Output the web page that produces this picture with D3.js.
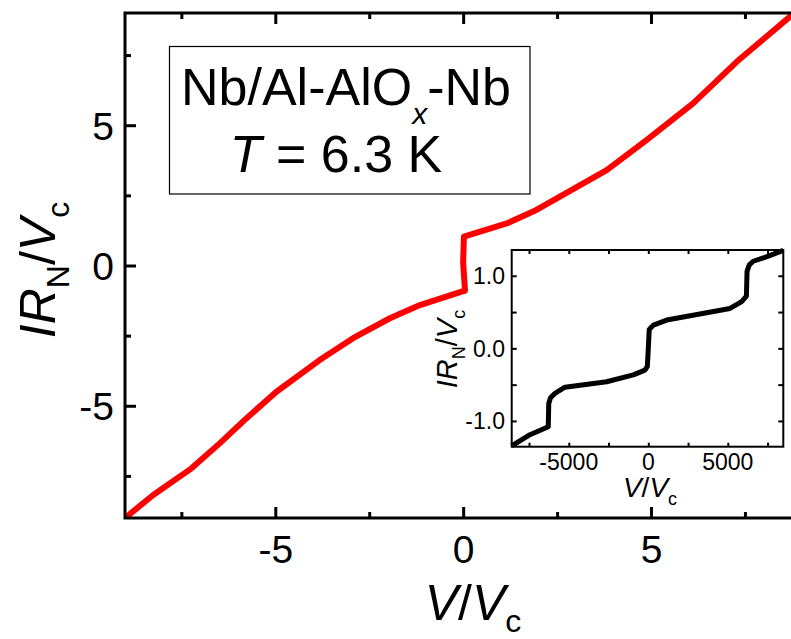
<!DOCTYPE html>
<html>
<head>
<meta charset="utf-8">
<script src="https://cdn.jsdelivr.net/npm/d3@7"></script>
<style>
  body { margin: 0; background: #fff; }
  svg { display: block; font-family: "Liberation Sans", Arial, Helvetica, sans-serif; }
</style>
</head>
<body>
<div id="vis"></div>
<script>
// main I-V curve (red)
const mainV = [-9.0, -8.25, -7.23, -6.48, -5.77, -4.97, -3.82, -2.93, -1.95, -1.15, -0.04, 0.05, 0.0, 0.02, 1.16, 1.95, 3.82, 4.88, 6.12, 7.28, 8.70, 9.1];
const mainI = [-9.0, -8.18, -7.23, -6.34, -5.45, -4.50, -3.37, -2.59, -1.88, -1.41, -0.93, -0.90, 0.1, 1.03, 1.50, 1.98, 3.40, 4.47, 5.78, 7.26, 8.87, 9.2];
const mainMajor = [-5, 0, 5];
const mainMinor = [-7.5, -2.5, 2.5, 7.5];

// inset curve (black)
const insetV = [-8590, -7440, -6290, -6260, -6150, -5870, -5240, -2620, -940, -210, -60, 0, 60, 320, 1160, 5140, 5870, 6170, 6210, 6350, 6600, 7550, 8490];
const insetI = [-1.345, -1.19, -1.08, -0.76, -0.68, -0.62, -0.535, -0.46, -0.366, -0.30, -0.25, 0.0, 0.26, 0.32, 0.39, 0.55, 0.645, 0.72, 1.06, 1.15, 1.20, 1.27, 1.35];
const insetXLabels = [-5000, 0, 5000];
const insetXTicks = [-7500, -5000, -2500, 0, 2500, 5000, 7500];
const insetYLabels = [-1.0, 0.0, 1.0];
const insetYTicks = [-1.0, -0.5, 0.0, 0.5, 1.0];

const W = 791, H = 639;
const svg = d3.select("#vis").append("svg").attr("width", W).attr("height", H);

const x = d3.scaleLinear().domain([-9, 9]).range([125, 801.3]);
const y = d3.scaleLinear().domain([-9, 9]).range([518, 13]);

// clip for the curve
svg.append("clipPath").attr("id", "plotClip")
  .append("rect")
  .attr("x", x(-9)).attr("y", y(9))
  .attr("width", x(9) - x(-9)).attr("height", y(-9) - y(9));

const line = d3.line().x(d => x(d[0])).y(d => y(d[1]));
svg.append("path")
  .datum(mainV.map((v, i) => [v, mainI[i]]))
  .attr("clip-path", "url(#plotClip)")
  .attr("fill", "none")
  .attr("stroke", "#ff0000")
  .attr("stroke-width", 6)
  .attr("stroke-linejoin", "round")
  .attr("d", line);

// AXES (ticks inward)
function ticks(axis, tr, vals, size, fmt, fs) {
  const g = svg.append("g")
    .attr("transform", tr)
    .call(axis.tickValues(vals).tickSize(size).tickPadding(0).tickFormat(fmt));
  g.select(".domain").remove();
  g.selectAll(".tick line").attr("stroke", "#000").attr("stroke-width", 3);
  g.selectAll("text").attr("font-size", fs).attr("fill", "#000");
  return g;
}
const noFmt = () => "";
const fmtMain = d => d < 0 ? "-" + Math.abs(d) : d;

const gx = ticks(d3.axisBottom(x), `translate(0,${y(-9)})`, mainMajor, -11, fmtMain, "39px");
gx.selectAll("text").attr("y", 45).attr("dy", null);
ticks(d3.axisBottom(x), `translate(0,${y(-9)})`, mainMinor, -6, noFmt, "1px");
ticks(d3.axisTop(x), `translate(0,${y(9)})`, mainMajor, -11, noFmt, "1px");
ticks(d3.axisTop(x), `translate(0,${y(9)})`, mainMinor, -6, noFmt, "1px");

const gy = ticks(d3.axisLeft(y), `translate(${x(-9)},0)`, mainMajor, -11, fmtMain, "39px");
gy.selectAll("text").attr("x", -11).attr("dy", "0.36em");
ticks(d3.axisLeft(y), `translate(${x(-9)},0)`, mainMinor, -6, noFmt, "1px");

// frame
svg.append("rect")
  .attr("x", x(-9)).attr("y", y(9))
  .attr("width", x(9) - x(-9)).attr("height", y(-9) - y(9))
  .attr("fill", "none").attr("stroke", "#000").attr("stroke-width", 3);

// axis labels
const xl = svg.append("text").attr("x", 473).attr("y", 620)
  .attr("text-anchor", "middle").attr("font-size", "50px");
xl.append("tspan").attr("font-style", "italic").text("V");
xl.append("tspan").text("/");
xl.append("tspan").attr("font-style", "italic").text("V");
xl.append("tspan").attr("font-size", "32px").attr("dy", 12).text("c");

const yl = svg.append("text")
  .attr("transform", "translate(55,270) rotate(-90)")
  .attr("text-anchor", "middle").attr("font-size", "50px");
yl.append("tspan").attr("font-style", "italic").text("IR");
yl.append("tspan").attr("font-size", "32px").attr("dy", 14).text("N");
yl.append("tspan").attr("dy", -14).text("/");
yl.append("tspan").attr("font-style", "italic").text("V");
yl.append("tspan").attr("font-size", "32px").attr("dy", 14).text("c");

// LEGEND BOX
svg.append("rect")
  .attr("x", 169.5).attr("y", 46.5).attr("width", 360.5).attr("height", 147.5)
  .attr("fill", "#fff").attr("stroke", "#000").attr("stroke-width", 1.2);
const t1 = svg.append("text").attr("x", 346).attr("y", 105)
  .attr("text-anchor", "middle").attr("font-size", "52px");
t1.append("tspan").text("Nb/Al-AlO");
t1.append("tspan").attr("font-style", "italic").attr("font-size", "30px").attr("dy", 19).text("x");
t1.append("tspan").attr("dy", -19).text("-Nb");
const t2 = svg.append("text").attr("x", 336).attr("y", 172)
  .attr("text-anchor", "middle").attr("font-size", "52px");
t2.append("tspan").attr("font-style", "italic").text("T");
t2.append("tspan").text(" = 6.3 K");

// INSET
const xi = d3.scaleLinear().domain([-8590, 8490]).range([511.7, 783.3]);
const yi = d3.scaleLinear().domain([-1.355, 1.355]).range([446.7, 250]);

svg.append("rect")
  .attr("x", xi(-8590)).attr("y", yi(1.355))
  .attr("width", xi(8490) - xi(-8590)).attr("height", yi(-1.355) - yi(1.355))
  .attr("fill", "#fff");

const lineI = d3.line().x(d => xi(d[0])).y(d => yi(d[1]));
svg.append("path")
  .datum(insetV.map((v, i) => [v, insetI[i]]))
  .attr("fill", "none")
  .attr("stroke", "#000")
  .attr("stroke-width", 5)
  .attr("stroke-linejoin", "round")
  .attr("d", lineI);

function iticks(axis, tr, vals, size) {
  const g = svg.append("g").attr("transform", tr)
    .call(axis.tickValues(vals).tickSize(size).tickFormat(noFmt));
  g.select(".domain").remove();
  g.selectAll(".tick line").attr("stroke", "#000").attr("stroke-width", 2);
}
iticks(d3.axisBottom(xi), `translate(0,${yi(-1.355)})`, insetXTicks, -4);
iticks(d3.axisTop(xi), `translate(0,${yi(1.355)})`, insetXTicks, -4);
iticks(d3.axisLeft(yi), `translate(${xi(-8590)},0)`, insetYTicks, -5);
iticks(d3.axisRight(yi), `translate(${xi(8490)},0)`, insetYTicks, -5);

svg.append("rect")
  .attr("x", xi(-8590)).attr("y", yi(1.355))
  .attr("width", xi(8490) - xi(-8590)).attr("height", yi(-1.355) - yi(1.355))
  .attr("fill", "none").attr("stroke", "#000").attr("stroke-width", 2);

svg.append("g").selectAll("text")
  .data(insetXLabels).enter().append("text")
  .attr("x", d => xi(d)).attr("y", 470)
  .attr("text-anchor", "middle").attr("font-size", "23px")
  .text(d => d < 0 ? "-" + Math.abs(d) : d);

svg.append("g").selectAll("text")
  .data(insetYLabels).enter().append("text")
  .attr("x", 505).attr("y", d => yi(d)).attr("dy", "0.36em")
  .attr("text-anchor", "end").attr("font-size", "23px")
  .text(d => (d < 0 ? "-" : "") + Math.abs(d).toFixed(1));

const ixl = svg.append("text").attr("x", 650).attr("y", 497)
  .attr("text-anchor", "middle").attr("font-size", "28px");
ixl.append("tspan").attr("font-style", "italic").text("V");
ixl.append("tspan").text("/");
ixl.append("tspan").attr("font-style", "italic").text("V");
ixl.append("tspan").attr("font-size", "18px").attr("dy", 8).text("c");

const iyl = svg.append("text")
  .attr("transform", "translate(457,349) rotate(-90)")
  .attr("text-anchor", "middle").attr("font-size", "29px");
iyl.append("tspan").attr("font-style", "italic").text("IR");
iyl.append("tspan").attr("font-size", "18px").attr("dy", 8).text("N");
iyl.append("tspan").attr("dy", -8).text("/");
iyl.append("tspan").attr("font-style", "italic").text("V");
iyl.append("tspan").attr("font-size", "18px").attr("dy", 8).text("c");
</script>
</body>
</html>
